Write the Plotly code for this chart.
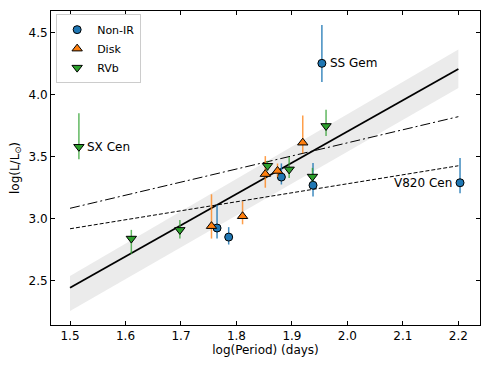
import plotly.graph_objects as go

# Non-IR sources
nonir_p = [1.765, 1.786, 1.881, 1.938, 1.954, 2.203]
nonir_l = [2.925, 2.852, 3.336, 3.27, 4.253, 3.29]
nonir_up = [0.185, 0.08, 0.11, 0.18, 0.31, 0.2]
nonir_dn = [0.085, 0.06, 0.06, 0.09, 0.15, 0.085]

# disk sources
disk_p = [1.755, 1.811, 1.852, 1.874, 1.9195]
disk_l = [2.94, 3.02, 3.36, 3.385, 3.613]
disk_up = [0.257, 0.12, 0.145, 0.06, 0.22]
disk_dn = [0.1, 0.065, 0.11, 0.05, 0.085]

# RVb sources
rvb_p = [1.516, 1.6105, 1.698, 1.856, 1.895, 1.937, 1.9615]
rvb_l = [3.58, 2.84, 2.91, 3.427, 3.398, 3.34, 3.748]
rvb_up = [0.27, 0.07, 0.08, 0.04, 0.1, 0.07, 0.13]
rvb_dn = [0.1, 0.125, 0.07, 0.04, 0.07, 0.04, 0.08]

# relations
line_x = [1.5, 2.2]
fit_y = [2.444, 4.207]
band_lo = [2.256, 4.054]
band_hi = [2.538, 4.365]
dashdot_y = [3.084, 3.823]
dashed_y = [2.919, 3.427]

labels = [("SS Gem", 1.954, 4.253, "left"), ("SX Cen", 1.516, 3.58, "left"),
          ("V820 Cen", 2.203, 3.29, "right")]

fig = go.Figure()

fig.add_trace(go.Scatter(x=line_x, y=band_lo, mode="lines", line=dict(width=0),
                         showlegend=False, hoverinfo="skip"))
fig.add_trace(go.Scatter(x=line_x, y=band_hi, mode="lines", line=dict(width=0),
                         fill="tonexty", fillcolor="#ebebeb", showlegend=False, hoverinfo="skip"))
fig.add_trace(go.Scatter(x=line_x, y=dashdot_y, mode="lines",
                         line=dict(color="black", width=1, dash="10px,3px,2px,3px"), showlegend=False))
fig.add_trace(go.Scatter(x=line_x, y=dashed_y, mode="lines",
                         line=dict(color="black", width=1, dash="4px,2px"), showlegend=False))
fig.add_trace(go.Scatter(x=line_x, y=fit_y, mode="lines",
                         line=dict(color="black", width=1.8), showlegend=False))


def add_group(name, px, ly, up, dn, color, bar, symbol, size):
    fig.add_trace(go.Scatter(
        x=px, y=ly, mode="markers", name=name,
        marker=dict(color=color, symbol=symbol, size=size, line=dict(color="black", width=1)),
        error_y=dict(type="data", symmetric=False, array=up, arrayminus=dn,
                     color=bar, thickness=1.5, width=0),
    ))


add_group("Non-IR", nonir_p, nonir_l, nonir_up, nonir_dn, "#1f77b4", "rgba(31,119,180,0.85)", "circle", 8)
add_group("Disk", disk_p, disk_l, disk_up, disk_dn, "#ff7f0e", "rgba(255,127,14,0.75)", "triangle-up", 9)
add_group("RVb", rvb_p, rvb_l, rvb_up, rvb_dn, "#2ca02c", "rgba(44,160,44,0.75)", "triangle-down", 9)

for txt, x, y, side in labels:
    fig.add_annotation(x=x, y=y, text=txt, showarrow=False,
                       xanchor=side, xshift=6 if side == "left" else -6,
                       font=dict(size=12, color="black"))

axis = dict(showline=True, linecolor="black", linewidth=1, mirror="ticks",
            ticks="inside", ticklen=4, tickcolor="black", showgrid=False,
            zeroline=False, tickformat=".1f", tickfont=dict(size=12, color="black"))

fig.update_layout(
    width=491, height=367,
    margin=dict(l=51, r=11, t=11, b=42),
    plot_bgcolor="white", paper_bgcolor="white",
    font=dict(family="DejaVu Sans", size=12, color="black"),
    hovermode=False,
    xaxis=dict(axis, range=[1.4657, 2.239], dtick=0.1, tick0=1.5,
               title=dict(text="log(Period) (days)", standoff=0, font=dict(size=12))),
    yaxis=dict(axis, range=[2.143, 4.675], dtick=0.5, tick0=2.5,
               title=dict(text="log(L/L<sub>⊙</sub>)", standoff=6, font=dict(size=12))),
    legend=dict(x=0.012, y=0.99, xanchor="left", yanchor="top", traceorder="normal",
                bgcolor="rgba(255,255,255,0.9)", bordercolor="#cccccc", borderwidth=1,
                font=dict(size=11), tracegroupgap=0, itemwidth=30),
)

fig.write_html("out.html", config={"displayModeBar": False},
               post_script="document.body.style.margin='0';")
